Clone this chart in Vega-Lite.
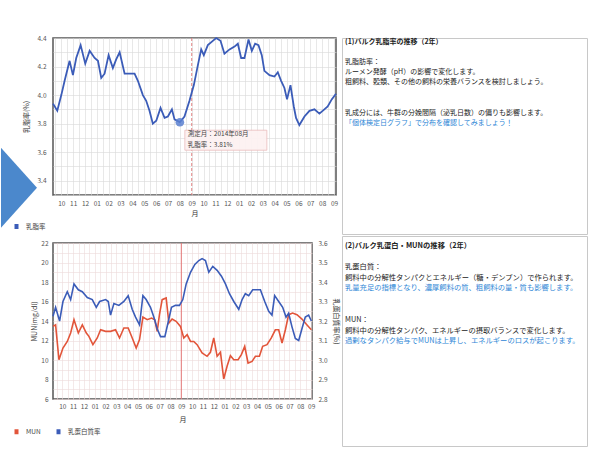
{
  "$schema": "https://vega.github.io/schema/vega-lite/v6.json",
  "background": "white",
  "padding": {"left": 0, "top": 33, "right": 0, "bottom": 0},
  "config": {
    "font": "Noto Sans CJK JP",
    "axis": {"labelFont": "Noto Sans CJK JP", "titleFont": "Noto Sans CJK JP", "labelColor": "#555", "titleColor": "#333", "labelFontSize": 6.5, "titleFontSize": 7, "titleFontWeight": "normal", "ticks": false, "domain": false, "labelFlush": false, "labelOverlap": false},
    "legend": {"labelFont": "Noto Sans CJK JP", "labelFontSize": 6.5, "labelColor": "#444"}
  },
  "resolve": {"scale": {"color": "independent"}, "legend": {"color": "independent"}},
  "datasets": {
    "fat": [
      {"t": -0.7, "v": 3.94}, {"t": -0.34, "v": 3.89}, {"t": 0, "v": 4.0}, {"t": 0.28, "v": 4.1}, {"t": 0.7, "v": 4.24}, {"t": 0.98, "v": 4.14}, {"t": 1.26, "v": 4.26}, {"t": 1.63, "v": 4.35}, {"t": 2.02, "v": 4.22}, {"t": 2.39, "v": 4.31}, {"t": 2.81, "v": 4.26}, {"t": 3.09, "v": 4.24}, {"t": 3.37, "v": 4.12}, {"t": 3.65, "v": 4.15}, {"t": 3.99, "v": 4.28}, {"t": 4.35, "v": 4.19}, {"t": 4.63, "v": 4.25}, {"t": 4.92, "v": 4.3}, {"t": 5.34, "v": 4.15}, {"t": 5.76, "v": 4.15}, {"t": 6.18, "v": 4.15}, {"t": 6.46, "v": 4.1}, {"t": 6.88, "v": 4.0}, {"t": 7.16, "v": 3.96}, {"t": 7.44, "v": 3.89}, {"t": 7.72, "v": 3.8}, {"t": 8.01, "v": 3.82}, {"t": 8.37, "v": 3.91}, {"t": 8.71, "v": 3.84}, {"t": 8.99, "v": 3.85}, {"t": 9.33, "v": 3.9}, {"t": 9.55, "v": 3.83}, {"t": 10.0, "v": 3.81}, {"t": 10.39, "v": 3.85}, {"t": 10.81, "v": 3.96}, {"t": 11.18, "v": 4.07}, {"t": 11.52, "v": 4.21}, {"t": 11.8, "v": 4.32}, {"t": 12.02, "v": 4.28}, {"t": 12.36, "v": 4.35}, {"t": 12.78, "v": 4.38}, {"t": 13.06, "v": 4.4}, {"t": 13.43, "v": 4.38}, {"t": 13.76, "v": 4.29}, {"t": 14.19, "v": 4.32}, {"t": 14.61, "v": 4.34}, {"t": 14.89, "v": 4.36}, {"t": 15.17, "v": 4.26}, {"t": 15.45, "v": 4.26}, {"t": 15.79, "v": 4.39}, {"t": 16.07, "v": 4.31}, {"t": 16.35, "v": 4.36}, {"t": 16.63, "v": 4.35}, {"t": 16.91, "v": 4.28}, {"t": 17.13, "v": 4.17}, {"t": 17.56, "v": 4.14}, {"t": 17.98, "v": 4.13}, {"t": 18.26, "v": 4.16}, {"t": 18.54, "v": 4.1}, {"t": 18.82, "v": 4.05}, {"t": 19.04, "v": 3.97}, {"t": 19.33, "v": 4.07}, {"t": 19.61, "v": 3.92}, {"t": 19.8, "v": 3.84}, {"t": 20.08, "v": 3.79}, {"t": 20.51, "v": 3.85}, {"t": 20.93, "v": 3.89}, {"t": 21.35, "v": 3.9}, {"t": 21.77, "v": 3.87}, {"t": 22.19, "v": 3.9}, {"t": 22.47, "v": 3.92}, {"t": 22.81, "v": 3.97}, {"t": 23.17, "v": 4.01}
    ],
    "hl": [{"t": 10.0, "v": 3.81, "month": "測定月：2014年08月", "label": "乳脂率：3.81%"}],
    "marker": [{"t": 11}],
    "prot": [
      {"t": -0.86, "v": 3.224}, {"t": -0.62, "v": 3.27}, {"t": -0.25, "v": 3.2}, {"t": 0.06, "v": 3.3}, {"t": 0.46, "v": 3.35}, {"t": 0.77, "v": 3.31}, {"t": 1.08, "v": 3.39}, {"t": 1.48, "v": 3.36}, {"t": 1.85, "v": 3.35}, {"t": 2.31, "v": 3.32}, {"t": 2.77, "v": 3.31}, {"t": 3.14, "v": 3.27}, {"t": 3.45, "v": 3.3}, {"t": 4.0, "v": 3.31}, {"t": 4.25, "v": 3.3}, {"t": 4.46, "v": 3.23}, {"t": 4.77, "v": 3.29}, {"t": 5.23, "v": 3.28}, {"t": 5.69, "v": 3.3}, {"t": 6.09, "v": 3.33}, {"t": 6.46, "v": 3.26}, {"t": 6.77, "v": 3.22}, {"t": 7.14, "v": 3.18}, {"t": 7.45, "v": 3.33}, {"t": 7.75, "v": 3.31}, {"t": 8.15, "v": 3.27}, {"t": 8.46, "v": 3.22}, {"t": 8.77, "v": 3.16}, {"t": 9.08, "v": 3.12}, {"t": 9.48, "v": 3.12}, {"t": 9.85, "v": 3.21}, {"t": 10.09, "v": 3.27}, {"t": 10.46, "v": 3.28}, {"t": 10.83, "v": 3.28}, {"t": 11.14, "v": 3.31}, {"t": 11.45, "v": 3.39}, {"t": 11.85, "v": 3.45}, {"t": 12.25, "v": 3.49}, {"t": 12.62, "v": 3.51}, {"t": 12.92, "v": 3.52}, {"t": 13.23, "v": 3.51}, {"t": 13.54, "v": 3.45}, {"t": 13.91, "v": 3.48}, {"t": 14.31, "v": 3.46}, {"t": 14.71, "v": 3.43}, {"t": 15.08, "v": 3.39}, {"t": 15.45, "v": 3.34}, {"t": 15.85, "v": 3.3}, {"t": 16.31, "v": 3.26}, {"t": 16.62, "v": 3.31}, {"t": 16.92, "v": 3.34}, {"t": 17.23, "v": 3.33}, {"t": 17.6, "v": 3.36}, {"t": 18.0, "v": 3.36}, {"t": 18.31, "v": 3.36}, {"t": 18.71, "v": 3.3}, {"t": 19.08, "v": 3.25}, {"t": 19.38, "v": 3.23}, {"t": 19.63, "v": 3.33}, {"t": 20.0, "v": 3.3}, {"t": 20.37, "v": 3.27}, {"t": 20.68, "v": 3.22}, {"t": 20.92, "v": 3.24}, {"t": 21.23, "v": 3.17}, {"t": 21.54, "v": 3.11}, {"t": 21.85, "v": 3.1}, {"t": 22.15, "v": 3.16}, {"t": 22.46, "v": 3.22}, {"t": 22.77, "v": 3.23}, {"t": 23.02, "v": 3.2}
    ],
    "mun": [
      {"t": -0.86, "v": 13.45}, {"t": -0.62, "v": 13.6}, {"t": -0.31, "v": 10.03}, {"t": 0.06, "v": 11.23}, {"t": 0.46, "v": 11.9}, {"t": 0.77, "v": 12.77}, {"t": 1.08, "v": 14.13}, {"t": 1.48, "v": 12.77}, {"t": 1.85, "v": 13.6}, {"t": 2.22, "v": 12.77}, {"t": 2.46, "v": 12.43}, {"t": 2.83, "v": 11.57}, {"t": 3.23, "v": 12.26}, {"t": 3.54, "v": 13.1}, {"t": 4.0, "v": 12.94}, {"t": 4.46, "v": 12.94}, {"t": 4.92, "v": 13.1}, {"t": 5.29, "v": 12.26}, {"t": 5.69, "v": 13.28}, {"t": 6.09, "v": 13.28}, {"t": 6.4, "v": 12.43}, {"t": 6.83, "v": 11.23}, {"t": 7.14, "v": 12.09}, {"t": 7.45, "v": 14.4}, {"t": 7.85, "v": 14.13}, {"t": 8.25, "v": 14.3}, {"t": 8.55, "v": 14.13}, {"t": 8.77, "v": 12.94}, {"t": 8.98, "v": 14.65}, {"t": 9.23, "v": 16.19}, {"t": 9.6, "v": 16.36}, {"t": 9.85, "v": 13.79}, {"t": 10.15, "v": 14.2}, {"t": 10.52, "v": 13.97}, {"t": 10.92, "v": 13.45}, {"t": 11.23, "v": 12.26}, {"t": 11.54, "v": 12.6}, {"t": 11.85, "v": 11.9}, {"t": 12.15, "v": 11.9}, {"t": 12.46, "v": 11.57}, {"t": 12.92, "v": 10.72}, {"t": 13.38, "v": 10.38}, {"t": 13.69, "v": 10.79}, {"t": 14.0, "v": 12.26}, {"t": 14.31, "v": 10.38}, {"t": 14.62, "v": 10.79}, {"t": 14.92, "v": 8.05}, {"t": 15.23, "v": 9.35}, {"t": 15.54, "v": 10.44}, {"t": 15.85, "v": 10.03}, {"t": 16.25, "v": 10.03}, {"t": 16.55, "v": 10.55}, {"t": 16.86, "v": 11.4}, {"t": 17.17, "v": 9.69}, {"t": 17.54, "v": 9.86}, {"t": 17.85, "v": 10.38}, {"t": 18.22, "v": 10.38}, {"t": 18.52, "v": 11.4}, {"t": 18.92, "v": 11.57}, {"t": 19.32, "v": 12.26}, {"t": 19.69, "v": 13.1}, {"t": 20.0, "v": 13.1}, {"t": 20.31, "v": 11.74}, {"t": 20.62, "v": 13.1}, {"t": 20.92, "v": 14.65}, {"t": 21.29, "v": 14.82}, {"t": 21.69, "v": 14.65}, {"t": 22.15, "v": 14.2}, {"t": 22.62, "v": 13.6}, {"t": 23.02, "v": 13.1}
    ],
    "txt1": [
      {"line": 0, "kind": "title", "text": "(1)バルク乳脂率の推移（2年）"},
      {"line": 2, "kind": "body", "text": "乳脂肪率："},
      {"line": 3, "kind": "body", "text": "ルーメン発酵（pH）の影響で変化します。"},
      {"line": 4, "kind": "body", "text": "粗飼料、穀類、その他の飼料の栄養バランスを検討しましょう。"},
      {"line": 7, "kind": "body", "text": "乳成分には、牛群の分娩間隔（泌乳日数）の偏りも影響します。"},
      {"line": 8, "kind": "note", "text": "「個体検定日グラフ」で分布を確認してみましょう！"}
    ],
    "txt2": [
      {"line": 0, "kind": "title", "text": "(2)バルク乳蛋白・MUNの推移（2年）"},
      {"line": 2, "kind": "body", "text": "乳蛋白質："},
      {"line": 3, "kind": "body", "text": "飼料中の分解性タンパクとエネルギー（糖・デンプン）で作られます。"},
      {"line": 4, "kind": "note", "text": "乳量充足の指標となり、濃厚飼料の質、粗飼料の量・質も影響します。"},
      {"line": 7, "kind": "body", "text": "MUN："},
      {"line": 8, "kind": "body", "text": "飼料中の分解性タンパク、エネルギーの摂取バランスで変化します。"},
      {"line": 9, "kind": "note", "text": "過剰なタンパク給与でMUNは上昇し、エネルギーのロスが起こります。"}
    ]
  },
  "spacing": 0,
  "hconcat": [
    {
      "spacing": 1,
      "resolve": {"scale": {"color": "independent"}, "legend": {"color": "independent"}},
      "vconcat": [
        {
          "width": 283,
          "height": 157,
          "view": {"stroke": "#555", "strokeWidth": 1.5},
          "layer": [
            {
              "data": {"name": "marker"},
              "mark": {"type": "rule", "color": "#e07878", "strokeDash": [3, 2], "strokeWidth": 0.9},
              "encoding": {"x": {"field": "t", "type": "quantitative"}}
            },
            {
              "data": {"name": "fat"},
              "mark": {"type": "line", "strokeWidth": 1.8},
              "encoding": {
                "x": {"field": "t", "type": "quantitative", "scale": {"domain": [-0.7, 23.17], "nice": false, "zero": false},
                  "axis": {"title": "月", "tickCount": 48,
                    "labelExpr": "datum.value % 12 == 0 ? '10' : datum.value % 12 == 1 ? '11' : datum.value % 12 == 2 ? '12' : datum.value % 12 == 3 ? '01' : datum.value % 12 == 4 ? '02' : datum.value % 12 == 5 ? '03' : datum.value % 12 == 6 ? '04' : datum.value % 12 == 7 ? '05' : datum.value % 12 == 8 ? '06' : datum.value % 12 == 9 ? '07' : datum.value % 12 == 10 ? '08' : datum.value % 12 == 11 ? '09' : ''",
                    "grid": true, "gridColor": "#d8d8d8", "gridWidth": 0.6, "labelPadding": 5, "titlePadding": 3}},
                "y": {"field": "v", "type": "quantitative", "scale": {"domain": [3.3, 4.4], "nice": false, "zero": false},
                  "axis": {"title": "乳脂率(%)", "tickCount": 11, "format": ".1f",
                    "labelExpr": "datum.label == '3.4' || datum.label == '3.6' || datum.label == '3.8' || datum.label == '4.0' || datum.label == '4.2' || datum.label == '4.4' ? datum.label : ''",
                    "grid": true, "gridColor": "#d8d8d8", "gridWidth": 0.6, "labelPadding": 7, "titlePadding": 7}},
                "color": {"datum": "乳脂率", "scale": {"domain": ["乳脂率"], "range": ["#3b5cb8"]},
                  "legend": {"orient": "none", "legendX": -43, "legendY": 182, "direction": "horizontal", "title": null, "symbolType": "M-0.5,0H0.5", "symbolSize": 64, "symbolStrokeWidth": 5, "labelOffset": 3}}
              }
            },
            {
              "data": {"name": "hl"},
              "mark": {"type": "point", "filled": true, "size": 75, "color": "#5a80d0", "opacity": 0.85},
              "encoding": {"x": {"field": "t", "type": "quantitative"}, "y": {"field": "v", "type": "quantitative"}}
            },
            {
              "data": {"name": "hl"},
              "mark": {"type": "point", "shape": "M0.1,0.16H1.74V0.56H0.1Z", "size": 10000, "filled": true, "fill": "#fdf2f2", "stroke": "#eab9b9", "strokeWidth": 0.8, "opacity": 0.95},
              "encoding": {"x": {"field": "t", "type": "quantitative"}, "y": {"field": "v", "type": "quantitative"}}
            },
            {
              "data": {"name": "hl"},
              "mark": {"type": "text", "align": "left", "baseline": "middle", "dx": 8, "dy": 12, "fontSize": 6.5, "color": "#444"},
              "encoding": {"x": {"field": "t", "type": "quantitative"}, "y": {"field": "v", "type": "quantitative"}, "text": {"field": "month"}}
            },
            {
              "data": {"name": "hl"},
              "mark": {"type": "text", "align": "left", "baseline": "middle", "dx": 8, "dy": 23, "fontSize": 6.5, "color": "#444"},
              "encoding": {"x": {"field": "t", "type": "quantitative"}, "y": {"field": "v", "type": "quantitative"}, "text": {"field": "label"}}
            },
            {
              "data": {"values": [{}]},
              "mark": {"type": "point", "shape": "M-0.45,-1L0.45,0L-0.45,1Z", "size": 6400, "filled": true, "color": "#4b88cc", "opacity": 1},
              "encoding": {
                "x": {"datum": -3.57, "type": "quantitative"},
                "y": {"datum": 3.35, "type": "quantitative"}
              }
            }
          ]
        },
        {
          "width": 259,
          "height": 156,
          "view": {"stroke": "#555", "strokeWidth": 1.5},
          "layer": [
            {
              "data": {"name": "marker"},
              "mark": {"type": "rule", "color": "#e05a5a", "strokeWidth": 0.8},
              "encoding": {"x": {"field": "t", "type": "quantitative"}}
            },
            {
              "data": {"name": "mun"},
              "mark": {"type": "line", "strokeWidth": 1.6},
              "encoding": {
                "x": {"field": "t", "type": "quantitative", "scale": {"domain": [-0.86, 23.08], "nice": false, "zero": false},
                  "axis": {"title": "月", "tickCount": 48,
                    "labelExpr": "datum.value % 12 == 0 ? '10' : datum.value % 12 == 1 ? '11' : datum.value % 12 == 2 ? '12' : datum.value % 12 == 3 ? '01' : datum.value % 12 == 4 ? '02' : datum.value % 12 == 5 ? '03' : datum.value % 12 == 6 ? '04' : datum.value % 12 == 7 ? '05' : datum.value % 12 == 8 ? '06' : datum.value % 12 == 9 ? '07' : datum.value % 12 == 10 ? '08' : datum.value % 12 == 11 ? '09' : ''",
                    "grid": true, "gridColor": "#ecdada", "gridWidth": 0.6, "labelPadding": 4, "titlePadding": 6}},
                "y": {"field": "v", "type": "quantitative", "scale": {"domain": [6, 22], "nice": false, "zero": false},
                  "axis": {"title": "MUN(mg/dl)", "values": [6,7,8,9,10,11,12,13,14,15,16,17,18,19,20,21,22],
                    "labelExpr": "datum.value % 2 == 0 ? datum.label : ''",
                    "grid": true, "gridColor": "#ecdada", "gridWidth": 0.6, "labelPadding": 5, "titlePadding": 3}},
                "color": {"datum": "MUN", "scale": {"domain": ["MUN", "乳蛋白質率"], "range": ["#e2553a", "#3b5cb8"]},
                  "legend": {"orient": "none", "legendX": -43, "legendY": 182, "direction": "horizontal", "title": null, "symbolType": "M-0.5,0H0.5", "symbolSize": 64, "symbolStrokeWidth": 5, "labelOffset": 3, "columnPadding": 5}}
              }
            },
            {
              "data": {"name": "prot"},
              "mark": {"type": "line", "strokeWidth": 1.6},
              "encoding": {
                "x": {"field": "t", "type": "quantitative"},
                "y": {"field": "v", "type": "quantitative", "scale": {"domain": [2.8, 3.6], "nice": false, "zero": false},
                  "axis": {"orient": "right", "title": "乳蛋白質率(%)", "values": [2.8,2.9,3.0,3.1,3.2,3.3,3.4,3.5,3.6], "format": ".1f", "grid": false, "labelPadding": 6, "titlePadding": 5}},
                "color": {"datum": "乳蛋白質率"}
              }
            }
          ],
          "resolve": {"scale": {"y": "independent"}}
        }
      ]
    },
    {
      "spacing": 0,
      "vconcat": [
        {
          "width": 245,
          "height": 196,
          "view": {"stroke": "#c8c8c8", "strokeWidth": 1},
          "data": {"name": "txt1"},
          "encoding": {
            "x": {"datum": 0, "type": "quantitative", "scale": {"domain": [0, 1]}, "axis": null},
            "y": {"field": "line", "type": "quantitative", "scale": {"domain": [-0.396, 19.01], "reverse": true, "nice": false, "zero": false}, "axis": null},
            "text": {"field": "text"}
          },
          "layer": [
            {
              "transform": [{"filter": "datum.kind == 'title'"}],
              "mark": {"type": "text", "align": "left", "baseline": "middle", "dx": 3, "fontSize": 7, "fontWeight": "bold", "color": "#222"}
            },
            {
              "transform": [{"filter": "datum.kind == 'body'"}],
              "mark": {"type": "text", "align": "left", "baseline": "middle", "dx": 3, "fontSize": 7, "color": "#222"}
            },
            {
              "transform": [{"filter": "datum.kind == 'note'"}],
              "mark": {"type": "text", "align": "left", "baseline": "middle", "dx": 3, "fontSize": 7, "color": "#2e86d6"}
            }
          ]
        },
        {
          "width": 245,
          "height": 210,
          "view": {"stroke": "#c8c8c8", "strokeWidth": 1},
          "data": {"name": "txt2"},
          "encoding": {
            "x": {"datum": 0, "type": "quantitative", "scale": {"domain": [0, 1]}, "axis": null},
            "y": {"field": "line", "type": "quantitative", "scale": {"domain": [-0.943, 18.87], "reverse": true, "nice": false, "zero": false}, "axis": null},
            "text": {"field": "text"}
          },
          "layer": [
            {
              "transform": [{"filter": "datum.kind == 'title'"}],
              "mark": {"type": "text", "align": "left", "baseline": "middle", "dx": 3, "fontSize": 7.3, "fontWeight": "bold", "color": "#222"}
            },
            {
              "transform": [{"filter": "datum.kind == 'body'"}],
              "mark": {"type": "text", "align": "left", "baseline": "middle", "dx": 3, "fontSize": 7.3, "color": "#222"}
            },
            {
              "transform": [{"filter": "datum.kind == 'note'"}],
              "mark": {"type": "text", "align": "left", "baseline": "middle", "dx": 3, "fontSize": 7.3, "color": "#2e86d6"}
            }
          ]
        }
      ]
    }
  ]
}
